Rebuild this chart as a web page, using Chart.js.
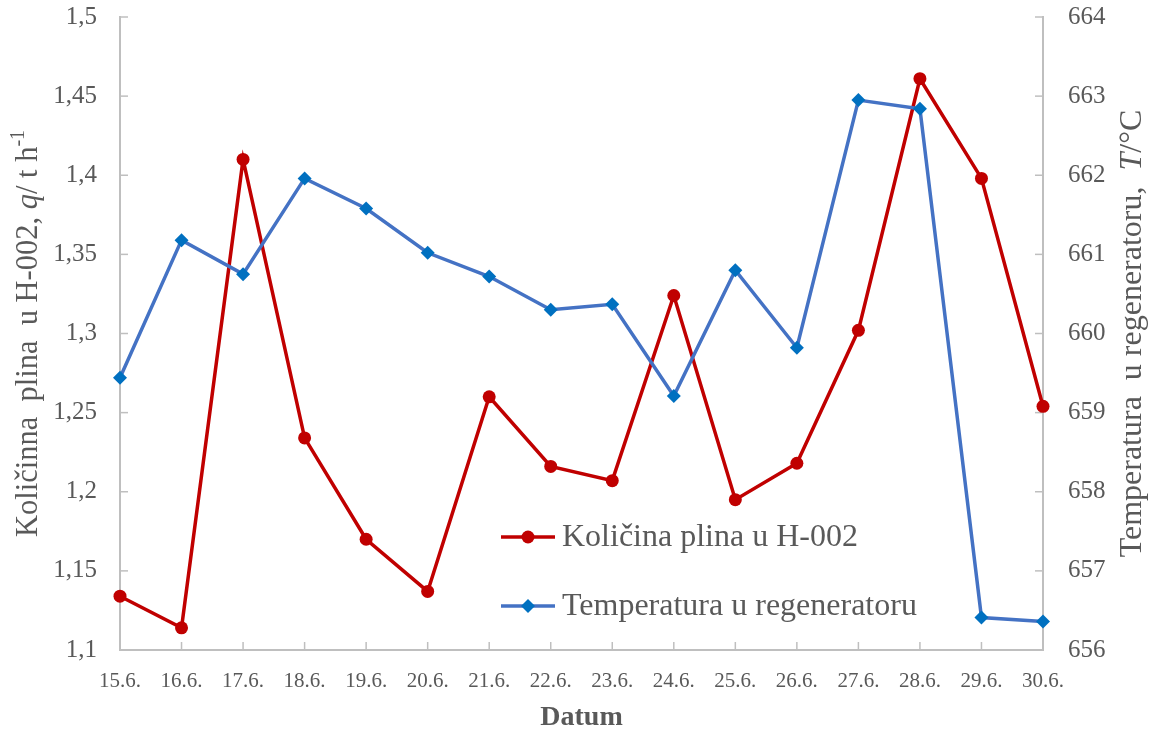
<!DOCTYPE html>
<html><head><meta charset="utf-8">
<script src="https://cdn.jsdelivr.net/npm/chart.js@4.4.1/dist/chart.umd.min.js"></script>
<style>html,body{margin:0;padding:0;background:#fff}#wrap{width:1155px;height:738px;position:relative}</style>
</head><body><div id="wrap"><canvas id="c" width="1155" height="738"></canvas></div>
<script>
const categories = ['15.6.','16.6.','17.6.','18.6.','19.6.','20.6.','21.6.','22.6.','23.6.','24.6.','25.6.','26.6.','27.6.','28.6.','29.6.','30.6.'];
const gasFlow = [1.134,1.114,1.410,1.234,1.170,1.137,1.260,1.216,1.207,1.324,1.195,1.218,1.302,1.461,1.398,1.254];
const regenTemp = [659.44,661.18,660.75,661.96,661.58,661.02,660.72,660.30,660.37,659.21,660.80,659.82,662.95,662.84,656.41,656.36];
const leftTickLabels = ['1,1','1,15','1,2','1,25','1,3','1,35','1,4','1,45','1,5'];
const rightTickLabels = ['656','657','658','659','660','661','662','663','664'];
const seriesNames = ['Količina plina u H-002','Temperatura u regeneratoru'];
const xTitle = 'Datum';
const leftTitleParts = [['Količinna  plina  u H-002, ',''],['q','i'],['/ t h',''],['-1','s']];
const rightTitleParts = [['Temperatura  u regeneratoru,  ',''],['T','i'],['/°C','']];

const FONT = "'Liberation Serif', 'Times New Roman', serif";
const GRAY = '#595959';
const AXIS = '#bfbfbf';
const RED = '#C00000';
const BLUE_LINE = '#4472C4';
const BLUE_MARK = '#0070C0';

const innerTicks = {
  id: 'innerTicks',
  beforeDatasetsDraw(chart) {
    const ctx = chart.ctx, a = chart.chartArea;
    ctx.save();
    ctx.strokeStyle = AXIS; ctx.lineWidth = 1.5;
    const L = 8;
    const xs = chart.scales.x;
    xs.ticks.forEach((t, i) => { const p = xs.getPixelForTick(i); ctx.beginPath(); ctx.moveTo(p, a.bottom); ctx.lineTo(p, a.bottom - L); ctx.stroke(); });
    const ys = chart.scales.y;
    ys.ticks.forEach((t, i) => { const p = ys.getPixelForTick(i); ctx.beginPath(); ctx.moveTo(a.left, p); ctx.lineTo(a.left + L, p); ctx.stroke(); });
    const y1 = chart.scales.y1;
    y1.ticks.forEach((t, i) => { const p = y1.getPixelForTick(i); ctx.beginPath(); ctx.moveTo(a.right, p); ctx.lineTo(a.right - L, p); ctx.stroke(); });
    ctx.restore();
  }
};

function drawRichVertical(ctx, parts, cx, cy, size) {
  ctx.save();
  ctx.translate(cx, cy);
  ctx.rotate(-Math.PI / 2);
  ctx.textBaseline = 'middle';
  ctx.textAlign = 'left';
  ctx.fillStyle = GRAY;
  const fontFor = p => (p[1] === 'i' ? 'italic ' : '') + (p[1] === 's' ? Math.round(size * 0.65) : size) + 'px ' + FONT;
  let total = 0;
  parts.forEach(p => { ctx.font = fontFor(p); total += ctx.measureText(p[0]).width; });
  let x = -total / 2;
  parts.forEach(p => {
    ctx.font = fontFor(p);
    ctx.fillText(p[0], x, p[1] === 's' ? -size * 0.33 : 0);
    x += ctx.measureText(p[0]).width;
  });
  ctx.restore();
}

const axisTitles = {
  id: 'axisTitles',
  afterDraw(chart) {
    const ctx = chart.ctx, a = chart.chartArea;
    const cy = (a.top + a.bottom) / 2;
    drawRichVertical(ctx, leftTitleParts, 29, cy, 30.5);
    drawRichVertical(ctx, rightTitleParts, 1133, cy, 32);
  }
};

const customLegend = {
  id: 'customLegend',
  afterDraw(chart) {
    const ctx = chart.ctx, a = chart.chartArea;
    const x0 = a.left + 381, x1 = x0 + 54, xm = (x0 + x1) / 2, tx = x1 + 7;
    const rows = [a.top + 520, a.top + 589];
    chart.data.datasets.forEach((ds, i) => {
      const y = rows[i];
      ctx.save();
      ctx.strokeStyle = ds.borderColor; ctx.lineWidth = ds.borderWidth;
      ctx.beginPath(); ctx.moveTo(x0, y); ctx.lineTo(x1, y); ctx.stroke();
      ctx.fillStyle = ds.pointBackgroundColor;
      const r = ds.pointRadius;
      ctx.beginPath();
      if (ds.pointStyle === 'rectRot') {
        ctx.moveTo(xm, y - r); ctx.lineTo(xm + r, y); ctx.lineTo(xm, y + r); ctx.lineTo(xm - r, y); ctx.closePath();
      } else {
        ctx.arc(xm, y, r, 0, Math.PI * 2);
      }
      ctx.fill();
      ctx.fillStyle = GRAY;
      ctx.font = '32px ' + FONT;
      ctx.textBaseline = 'middle'; ctx.textAlign = 'left';
      ctx.fillText(ds.label, tx, y + 1);
      ctx.restore();
    });
  }
};

function noOverflow(s) { s.paddingTop = 0; s.paddingBottom = 0; s.paddingLeft = 0; s.paddingRight = 0; }

new Chart(document.getElementById('c'), {
  type: 'line',
  data: {
    labels: categories,
    datasets: [
      { label: seriesNames[0], data: gasFlow, yAxisID: 'y', borderColor: RED, backgroundColor: RED,
        pointBackgroundColor: RED, pointBorderColor: RED, pointRadius: 6.5, pointBorderWidth: 0,
        pointStyle: 'circle', borderWidth: 3.5, tension: 0, clip: false, order: 2 },
      { label: seriesNames[1], data: regenTemp, yAxisID: 'y1', borderColor: BLUE_LINE, backgroundColor: BLUE_MARK,
        pointBackgroundColor: BLUE_MARK, pointBorderColor: BLUE_MARK, pointRadius: 7, pointBorderWidth: 0,
        pointStyle: 'rectRot', borderWidth: 3.5, tension: 0, clip: false, order: 1 }
    ]
  },
  options: {
    responsive: false, animation: false, devicePixelRatio: 1,
    layout: { padding: { top: 17, left: 0, right: 0, bottom: 0 } },
    plugins: { legend: { display: false }, tooltip: { enabled: false } },
    scales: {
      x: {
        type: 'category', offset: false,
        grid: { display: true, drawOnChartArea: false, drawTicks: false },
        border: { display: true, color: AXIS, width: 2 },
        ticks: { color: GRAY, font: { family: FONT, size: 21 }, padding: 19, maxRotation: 0, autoSkip: false },
        title: { display: true, text: xTitle, color: GRAY, font: { family: FONT, size: 28, weight: 'bold', lineHeight: 1.2 }, padding: { top: 0, bottom: 3 } },
        afterFit: s => { s.height = 88; noOverflow(s); }
      },
      y: {
        position: 'left', min: 1.1, max: 1.5,
        grid: { display: true, drawOnChartArea: false, drawTicks: false },
        border: { display: true, color: AXIS, width: 2 },
        ticks: { stepSize: 0.05, color: GRAY, font: { family: FONT, size: 25 }, padding: 23,
                 callback: (v, i) => leftTickLabels[i] },
        afterFit: s => { s.width = 120; noOverflow(s); }
      },
      y1: {
        position: 'right', min: 656, max: 664,
        grid: { display: true, drawOnChartArea: false, drawTicks: false },
        border: { display: true, color: AXIS, width: 2 },
        ticks: { stepSize: 1, color: GRAY, font: { family: FONT, size: 25 }, padding: 25,
                 callback: (v, i) => rightTickLabels[i] },
        afterFit: s => { s.width = 112; noOverflow(s); }
      }
    }
  },
  plugins: [innerTicks, axisTitles, customLegend]
});
</script>
</body></html>
